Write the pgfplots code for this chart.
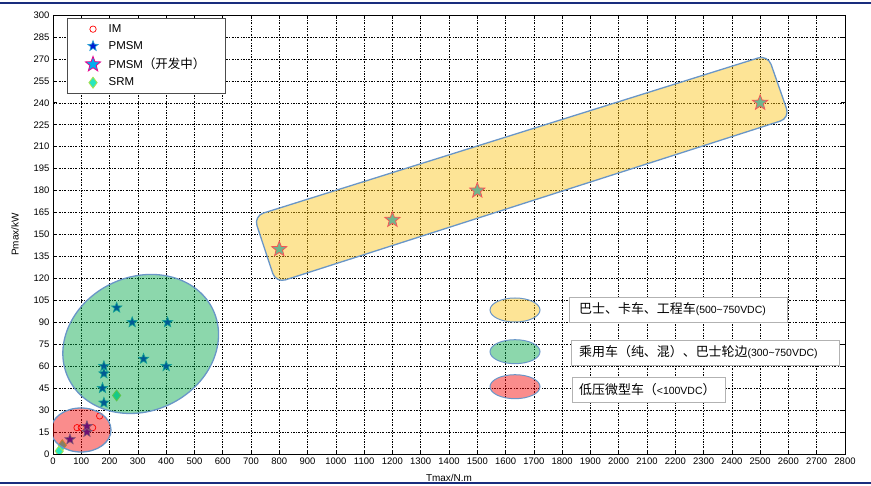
\documentclass[border=0pt]{standalone}
\usepackage{pgfplots}
\pgfplotsset{compat=1.18}
\usepackage{fontspec}
\setmainfont{Liberation Sans}
\newfontfamily\cjk{Noto Sans CJK SC}
\usetikzlibrary{plotmarks}

\definecolor{navy}{RGB}{25,45,125}
\definecolor{shapeedge}{RGB}{105,150,200}
\definecolor{yel}{RGB}{251,195,22}
\definecolor{grn}{RGB}{0,166,71}
\definecolor{rd}{RGB}{244,0,0}
\definecolor{pmblue}{RGB}{0,30,210}
\definecolor{srmfill}{RGB}{40,230,190}
\definecolor{srmedge}{RGB}{170,225,80}

\pgfdeclareplotmark{fstar}{%
  \pgfpathmoveto{\pgfpointpolar{90}{\pgfplotmarksize}}%
  \pgfpathlineto{\pgfpointpolar{126}{0.42\pgfplotmarksize}}%
  \pgfpathlineto{\pgfpointpolar{162}{\pgfplotmarksize}}%
  \pgfpathlineto{\pgfpointpolar{198}{0.42\pgfplotmarksize}}%
  \pgfpathlineto{\pgfpointpolar{234}{\pgfplotmarksize}}%
  \pgfpathlineto{\pgfpointpolar{270}{0.42\pgfplotmarksize}}%
  \pgfpathlineto{\pgfpointpolar{306}{\pgfplotmarksize}}%
  \pgfpathlineto{\pgfpointpolar{342}{0.42\pgfplotmarksize}}%
  \pgfpathlineto{\pgfpointpolar{18}{\pgfplotmarksize}}%
  \pgfpathlineto{\pgfpointpolar{54}{0.42\pgfplotmarksize}}%
  \pgfpathclose
  \pgfusepathqfillstroke
}

\begin{document}
\begin{tikzpicture}
\useasboundingbox (0,0) rectangle (871bp,486bp);
\begin{axis}[
  clip marker paths=true,
  at={(53bp,32bp)}, anchor=south west,
  scale only axis, width=792bp, height=439bp,
  xmin=0, xmax=2800, ymin=0, ymax=300,
  xtick={0,100,...,2800}, ytick={0,15,...,300},
  grid=major,
  major grid style={black, line width=0.5bp, dash pattern=on 2pt off 1.5pt on 0.6pt off 1.5pt},
  tick align=inside, major tick length=4bp,
  tick style={black, line width=0.6bp},
  axis line style={black, line width=0.8bp},
  ticklabel style={font=\fontsize{9.5}{10}\selectfont},
  /pgf/number format/assume math mode=true,
  /pgf/number format/set thousands separator={},
  xlabel={Tmax/N.m}, ylabel={Pmax/kW},
  xlabel style={font=\fontsize{10}{11}\selectfont, at={(axis description cs:0.5,-0.054)}, anchor=center},
  ylabel style={font=\fontsize{10}{11}\selectfont, at={(axis description cs:-0.048,0.5)}, anchor=center},
  legend cell align=left,
  legend style={at={(0.0177,0.993)}, anchor=north west, draw=black!70, line width=0.8bp,
    inner xsep=18bp, inner ysep=4bp, row sep=3.5bp, fill=white,
    /tikz/every odd column/.style={column sep=6bp},
    font=\fontsize{11.5}{13}\selectfont},
]
\addplot[only marks, red, mark=o, mark size=3.2bp, mark options={line width=0.7bp}]
  coordinates {(85,18) (100,18) (140,18) (165,26)};
\addlegendentry{IM}
\addplot[only marks, mark=fstar, mark size=5.5bp, mark options={fill=pmblue, draw=cyan!85!black, line width=0.6bp}]
  coordinates {(225,100) (280,90) (405,90) (320,65) (400,60) (180,60) (180,55) (175,45) (180,35) (60,10) (120,15) (120,19)};
\addlegendentry{PMSM}
\addplot[only marks, mark=fstar, mark size=8bp, mark options={fill=cyan, draw=magenta, line width=0.8bp}]
  coordinates {(800,140) (1200,160) (1500,180) (2500,240)};
\addlegendentry{PMSM{\cjk\fontsize{12.5}{13}\selectfont （开发中）}}
\addplot[only marks, mark=diamond*, mark size=5.5bp, mark options={fill=srmfill, draw=srmedge, line width=0.8bp}]
  coordinates {(225,40) (22,2) (33,6)};
\addlegendentry{SRM}

\draw[shapeedge, line width=1.3bp, fill=yel, fill opacity=0.45, rounded corners=10bp]
  (axis cs:710,162.6) -- (axis cs:2527,272.7) -- (axis cs:2605,229.6) -- (axis cs:788,116.9) -- cycle;
\draw[shapeedge, line width=1.3bp, fill=grn, fill opacity=0.45, rotate around={25:(axis cs:310,75.2)}]
  (axis cs:310,75.2) ellipse [x radius=80bp, y radius=67bp];
\draw[shapeedge, line width=1.3bp, fill=rd, fill opacity=0.45]
  (axis cs:99,16.4) ellipse [x radius=30bp, y radius=22bp];
\end{axis}

% annotation key
\draw[shapeedge, line width=1bp, fill=yel, fill opacity=0.45] (515bp,176bp) ellipse [x radius=25bp, y radius=12bp];
\draw[shapeedge, line width=1bp, fill=grn, fill opacity=0.45] (515bp,134.3bp) ellipse [x radius=25bp, y radius=12bp];
\draw[shapeedge, line width=1bp, fill=rd, fill opacity=0.45] (515bp,99.3bp) ellipse [x radius=25bp, y radius=12bp];

\draw[black!30, line width=0.8bp, fill=white] (569bp,164bp) rectangle (787bp,189bp);
\draw[black!30, line width=0.8bp, fill=white] (571bp,121bp) rectangle (839bp,146bp);
\draw[black!30, line width=0.8bp, fill=white] (572bp,84bp) rectangle (725bp,109bp);

\node[anchor=west, inner sep=0pt] at (579bp,176.5bp)
  {\cjk\fontsize{13}{15}\selectfont 巴士、卡车、工程车{\normalfont\fontsize{10.5}{12}\selectfont(500\textasciitilde750VDC)}};
\node[anchor=west, inner sep=0pt] at (579bp,133.5bp)
  {\cjk\fontsize{13}{15}\selectfont 乘用车（纯、混）、巴士轮边{\normalfont\fontsize{10.5}{12}\selectfont(300\textasciitilde750VDC)}};
\node[anchor=west, inner sep=0pt] at (579bp,96.5bp)
  {\cjk\fontsize{13}{15}\selectfont 低压微型车（{\normalfont\fontsize{10.5}{12}\selectfont<100VDC}）};

\draw[navy, line width=2bp] (0,483bp) -- (871bp,483bp);
\draw[navy, line width=2bp] (0,3bp) -- (871bp,3bp);
\end{tikzpicture}
\end{document}
